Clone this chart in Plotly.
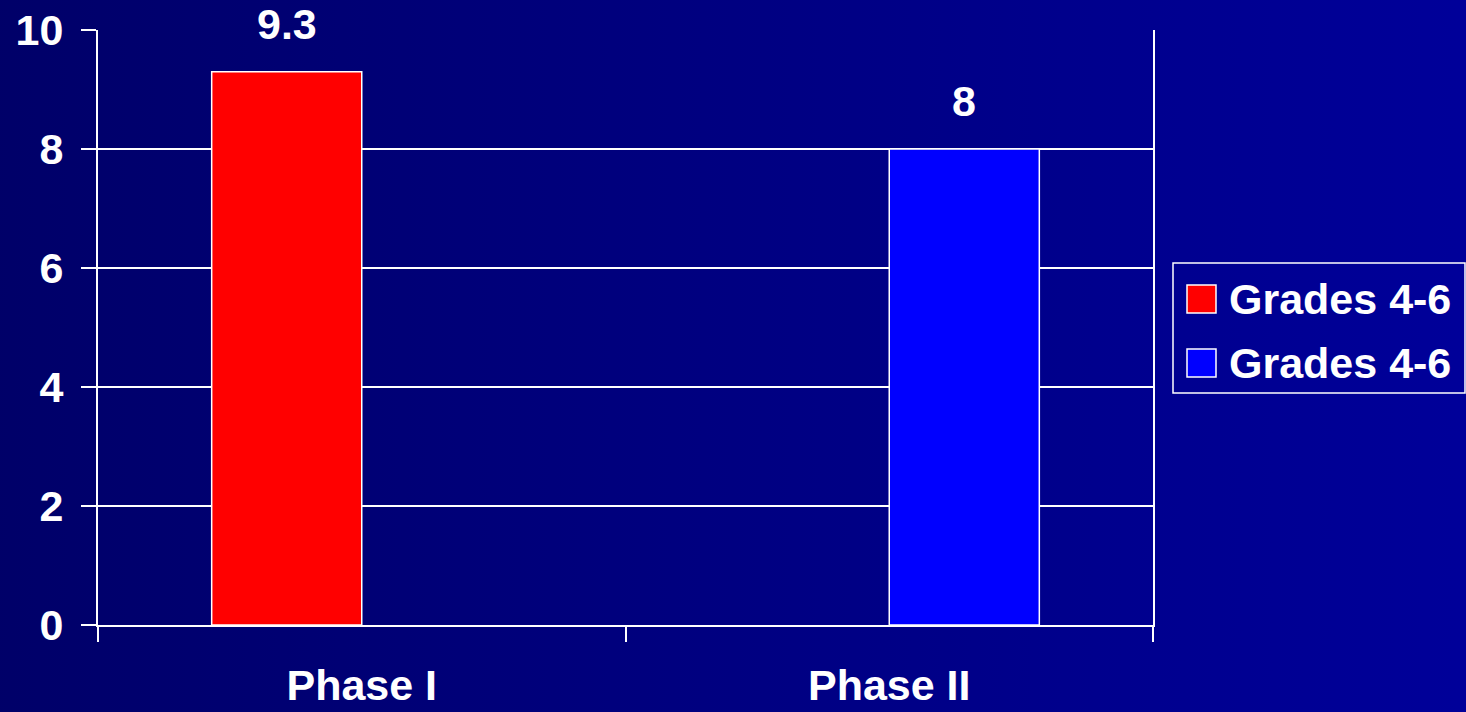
import plotly.graph_objects as go

# Data
categories = ["Phase I", "Phase II"]
series_names = ["Grades 4-6", "Grades 4-6"]
phase1_values = [9.3, None]
phase2_values = [None, 8]
series_colors = ["#FF0000", "#0000FF"]
y_ticks = [0, 2, 4, 6, 8, 10]

W, H = 1466, 712
ML, MR, MT, MB = 98, 313, 30, 87
PW, PH = W - ML - MR, H - MT - MB
BARGAP = 0.431
FONT = "Liberation Sans, Arial, sans-serif"
FS = 43


def px_x(px):
    return (px - ML) / PW


def px_y(py):
    return (H - MB - py) / PH


fig = go.Figure()
series_values = [phase1_values, phase2_values]
for name, vals, col in zip(series_names, series_values, series_colors):
    fig.add_trace(go.Bar(
        x=categories, y=vals, name=name,
        marker=dict(color=col, line=dict(color="white", width=1.5)),
        showlegend=False,
    ))

# value labels above the bars
half = (1 - BARGAP) / 4
for k, vals in enumerate(series_values):
    for i, v in enumerate(vals):
        if v is None:
            continue
        fig.add_annotation(
            x=i + (-half if k == 0 else half), y=v, text=f"<b>{v:g}</b>",
            showarrow=False, yanchor="bottom", yshift=22,
            font=dict(family=FONT, size=FS, color="white"),
        )

# background gradient (oversized so it always covers the page)
PAD = 20
grad_svg = (
    "data:image/svg+xml;utf8,<svg xmlns='http://www.w3.org/2000/svg' "
    "width='1506' height='752' preserveAspectRatio='none'>"
    "<defs><linearGradient id='g' x1='0' y1='0' x2='1' y2='0'>"
    "<stop offset='0' stop-color='%23000068'/>"
    "<stop offset='1' stop-color='%2300009A'/>"
    "</linearGradient></defs>"
    "<rect width='1506' height='752' fill='url(%23g)'/></svg>"
)
fig.add_layout_image(
    source=grad_svg, xref="paper", yref="paper",
    x=px_x(-PAD), y=px_y(-PAD), sizex=(W + 2 * PAD) / PW, sizey=(H + 2 * PAD) / PH,
    xanchor="left", yanchor="top", sizing="stretch", layer="below",
)

# legend drawn with large swatches
fig.add_shape(type="rect", xref="paper", yref="paper",
              x0=px_x(1173), x1=px_x(1465), y0=px_y(263), y1=px_y(393),
              line=dict(color="white", width=1.5), fillcolor="rgba(0,0,0,0)")
row_centers = [299, 363]
for name, col, cy in zip(series_names, series_colors, row_centers):
    fig.add_shape(type="rect", xref="paper", yref="paper",
                  x0=px_x(1187), x1=px_x(1216), y0=px_y(cy - 14), y1=px_y(cy + 14),
                  line=dict(color="white", width=1.5), fillcolor=col)
    fig.add_annotation(xref="paper", yref="paper", x=px_x(1227), y=px_y(cy),
                       text=f"<b>{name}</b>", showarrow=False,
                       xanchor="left", yanchor="middle",
                       font=dict(family=FONT, size=FS, color="white"))

fig.update_layout(
    width=W, height=H, autosize=False,
    margin=dict(l=ML, r=MR, t=MT, b=MB, pad=0, autoexpand=False),
    paper_bgcolor="#000080", plot_bgcolor="rgba(0,0,0,0)",
    barmode="group", bargap=BARGAP, bargroupgap=0,
    font=dict(family=FONT, size=FS, color="white"),
    showlegend=False,
)
fig.update_xaxes(
    type="category", showline=True, linecolor="white", linewidth=2,
    ticks="outside", tickson="boundaries", ticklen=15, tickcolor="white", tickwidth=2,
    showgrid=False, tickfont=dict(family=FONT, size=FS, color="white", weight="bold"),
    ticklabelstandoff=21, automargin=False,
)
fig.update_yaxes(
    range=[0, 10], tickvals=y_ticks, showline=True, mirror=True,
    linecolor="white", linewidth=2, ticks="outside", ticklen=15,
    tickcolor="white", tickwidth=2, showgrid=True, gridcolor="white", gridwidth=2,
    zeroline=False, tickfont=dict(family=FONT, size=FS, color="white", weight="bold"),
    ticklabelstandoff=9, automargin=False,
)

fig.write_html("out.html")
